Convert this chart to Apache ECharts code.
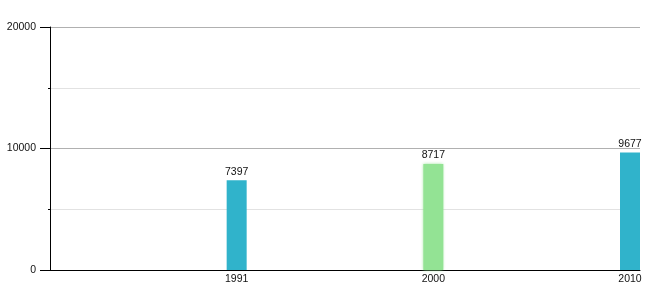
<!DOCTYPE html>
<html><head><meta charset="utf-8">
<script src="https://cdn.jsdelivr.net/npm/echarts@6/dist/echarts.min.js"></script>
<style>html,body{margin:0;padding:0;background:#fff}#c{width:660px;height:300px}</style>
</head><body><div id="c"></div>
<script>
const categories = ["", "1991", "2000", "2010"];
const values = [null, 7397, 8717, 9677];
const barColors = ["#30b3cb", "#30b3cb", "#93e394", "#30b3cb"];
const yTicks = [0, 10000, 20000];

const chart = echarts.init(document.getElementById('c'), null, {renderer: 'canvas'});
const font = "'Liberation Sans', Arial, sans-serif";
chart.setOption({
  animation: false,
  grid: {left: 50, right: 20, top: 27, bottom: 30, containLabel: false},
  xAxis: {
    type: 'category', data: categories, boundaryGap: false,
    axisLine: {lineStyle: {color: '#000', width: 1}},
    axisTick: {show: false},
    axisLabel: {color: '#111', fontSize: 10.5, fontFamily: font, margin: 4, padding: [0, 20, 0, 0], interval: 0, overflow: 'none'},
    splitLine: {show: false}
  },
  yAxis: {
    type: 'value', min: yTicks[0], max: yTicks[yTicks.length - 1], interval: 10000,
    axisLine: {show: true, lineStyle: {color: '#000', width: 1}},
    axisTick: {show: true, length: 10, lineStyle: {color: '#000'}},
    minorTick: {show: true, splitNumber: 2, length: 2, lineStyle: {color: '#000'}},
    axisLabel: {color: '#111', fontSize: 10.5, fontFamily: font, margin: 14, formatter: v => String(v)},
    splitLine: {show: true, lineStyle: {color: '#b0b0b0'}},
    minorSplitLine: {show: true, lineStyle: {color: '#e2e2e2'}}
  },
  series: [{
    type: 'bar', barWidth: 20, barGap: 0,
    data: values.map((v, i) => v == null ? null : {
      value: v,
      itemStyle: i === 2 ? {color: barColors[i], shadowBlur: 3, shadowColor: 'rgba(147,227,148,0.9)'} : {color: barColors[i]}
    }),
    label: {show: true, position: 'top', distance: 3, color: '#111', fontSize: 10.5, fontFamily: font}
  }, {
    type: 'bar', barWidth: 20, barGap: 0,
    data: values.map(() => 0), silent: true, itemStyle: {color: 'transparent'}
  }]
});
</script></body></html>
